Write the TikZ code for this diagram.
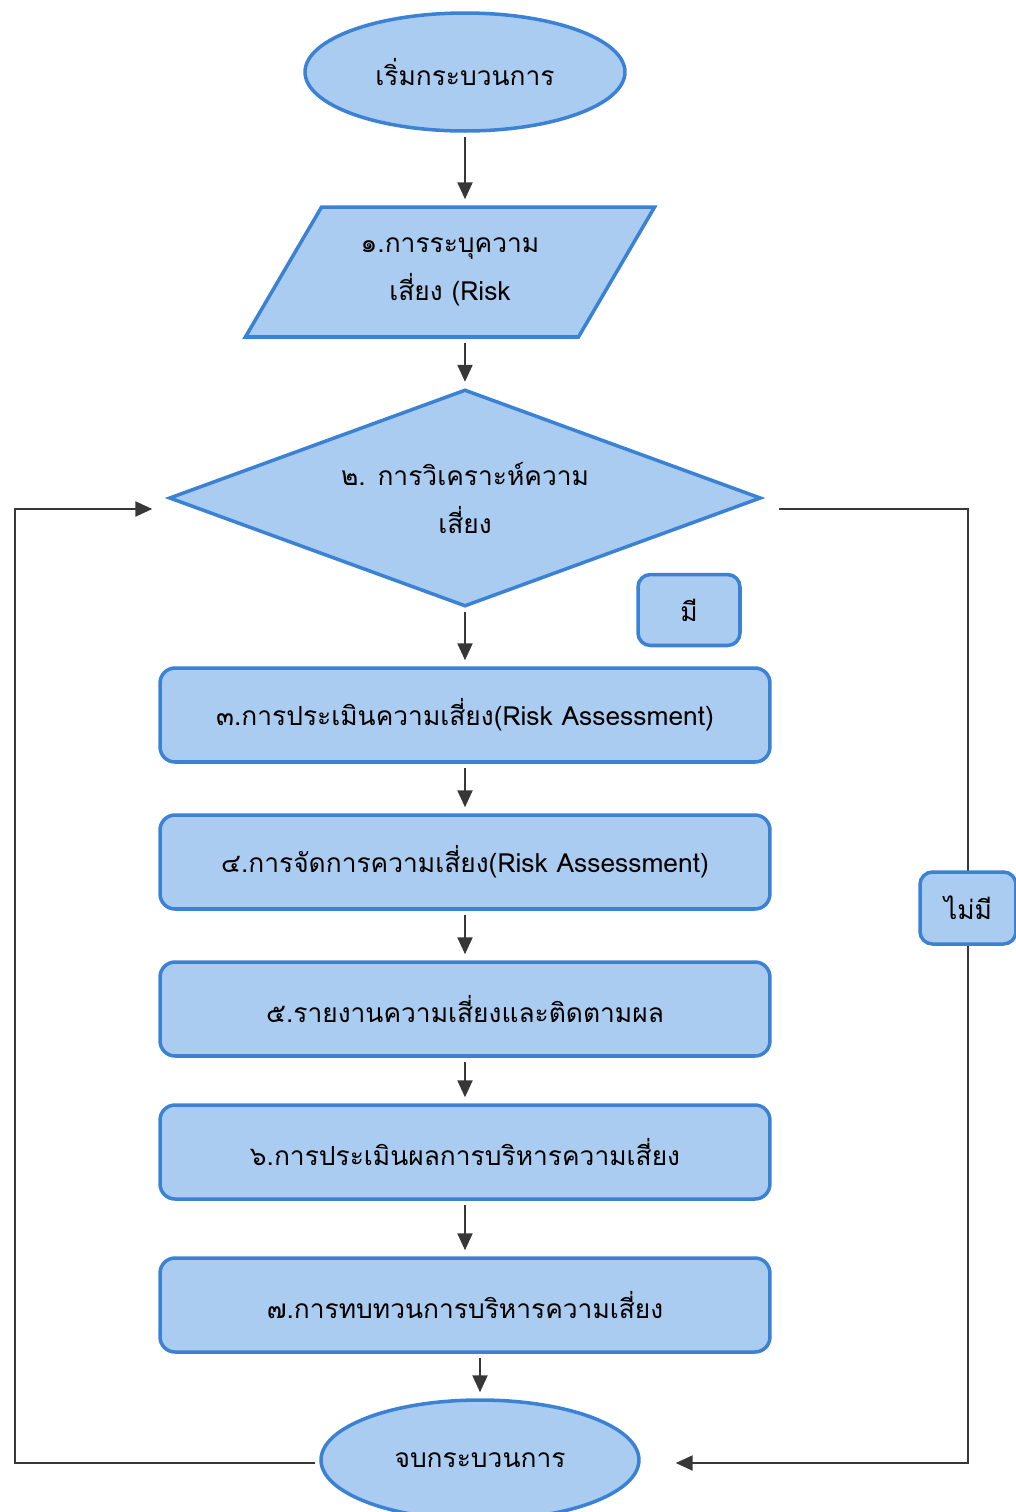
\documentclass[tikz,border=0pt]{standalone}
\usepackage{fontspec}
\newfontfamily\thaifont[Script=Thai]{Loma}
\usetikzlibrary{shapes.geometric,arrows.meta}
\definecolor{boxfill}{RGB}{170,204,240}
\definecolor{boxline}{RGB}{60,130,212}
\definecolor{flowgray}{RGB}{55,55,55}

\begin{document}
\begin{tikzpicture}[x=0.02cm, y=-0.02cm,
    font=\thaifont\fontsize{15}{27}\selectfont,
    >={Triangle[length=0.34cm,width=0.3cm]},
    shapebox/.style={draw=boxline, fill=boxfill, line width=2pt, inner sep=0pt, align=center},
    stepbox/.style={shapebox, rectangle, rounded corners=0.3cm, minimum width=12.2cm, minimum height=1.88cm},
    flow/.style={->, draw=flowgray, line width=1.3pt, shorten >=0.12cm, shorten <=0.08cm}]
  \useasboundingbox (0,0) rectangle (1016,1512);

  \node (start) [shapebox, ellipse, minimum width=6.4cm, minimum height=2.36cm] at (465,72) {เริ่มกระบวนการ};
  \node (ident) [shapebox, trapezium, trapezium left angle=52, trapezium right angle=128, trapezium stretches=true, minimum width=8.2cm, minimum height=2.6cm] at (450,272) {๑.การระบุความ\\เสี่ยง (Risk};
  \node (analyse) [shapebox, diamond, aspect=2.73, minimum width=11.84cm, minimum height=4.34cm] at (465,498) {๒. การวิเคราะห์ความ\\เสี่ยง};
  \node (yes) [shapebox, rectangle, rounded corners=0.25cm, minimum width=2.04cm, minimum height=1.42cm] at (689,610) {มี};

  \node (assess) [stepbox] at (465,715) {๓.การประเมินความเสี่ยง(Risk Assessment)};
  \node (manage) [stepbox] at (465,862) {๔.การจัดการความเสี่ยง(Risk Assessment)};
  \node (report) [stepbox] at (465,1009) {๕.รายงานความเสี่ยงและติดตามผล};
  \node (evaluate) [stepbox] at (465,1152) {๖.การประเมินผลการบริหารความเสี่ยง};
  \node (review) [stepbox] at (465,1305) {๗.การทบทวนการบริหารความเสี่ยง};

  \node (finish) [shapebox, ellipse, minimum width=6.36cm, minimum height=2.4cm] at (480,1460) {จบกระบวนการ};

  \draw [flow] (start.south) -- (start.south |- ident.north);
  \draw [flow] (ident.south -| analyse.north) -- (analyse.north);
  \draw [flow] (analyse.south) -- (assess.north);
  \draw [flow] (assess.south) -- (manage.north);
  \draw [flow] (manage.south) -- (report.north);
  \draw [flow] (report.south) -- (evaluate.north);
  \draw [flow] (evaluate.south) -- (review.north);
  \draw [flow] (review.south -| finish.north) -- (finish.north);

  % loop back on the left
  \coordinate (lowleft) at (15,1463);
  \coordinate (upleft) at (15,509);
  \draw [flow, shorten >=0.3cm] (finish.west |- lowleft) -- (lowleft) -- (upleft) -- (analyse.west |- upleft);

  % no-branch on the right
  \coordinate (upright) at (968,509);
  \coordinate (lowright) at (968,1463);
  \draw [flow, shorten <=0.32cm, shorten >=0.7cm] (analyse.east |- upright) -- (upright) -- (lowright) -- (finish.east |- lowright);

  \node (no) [shapebox, rectangle, rounded corners=0.25cm, minimum width=1.92cm, minimum height=1.44cm] at (968,908) {ไม่มี};
\end{tikzpicture}
\end{document}
